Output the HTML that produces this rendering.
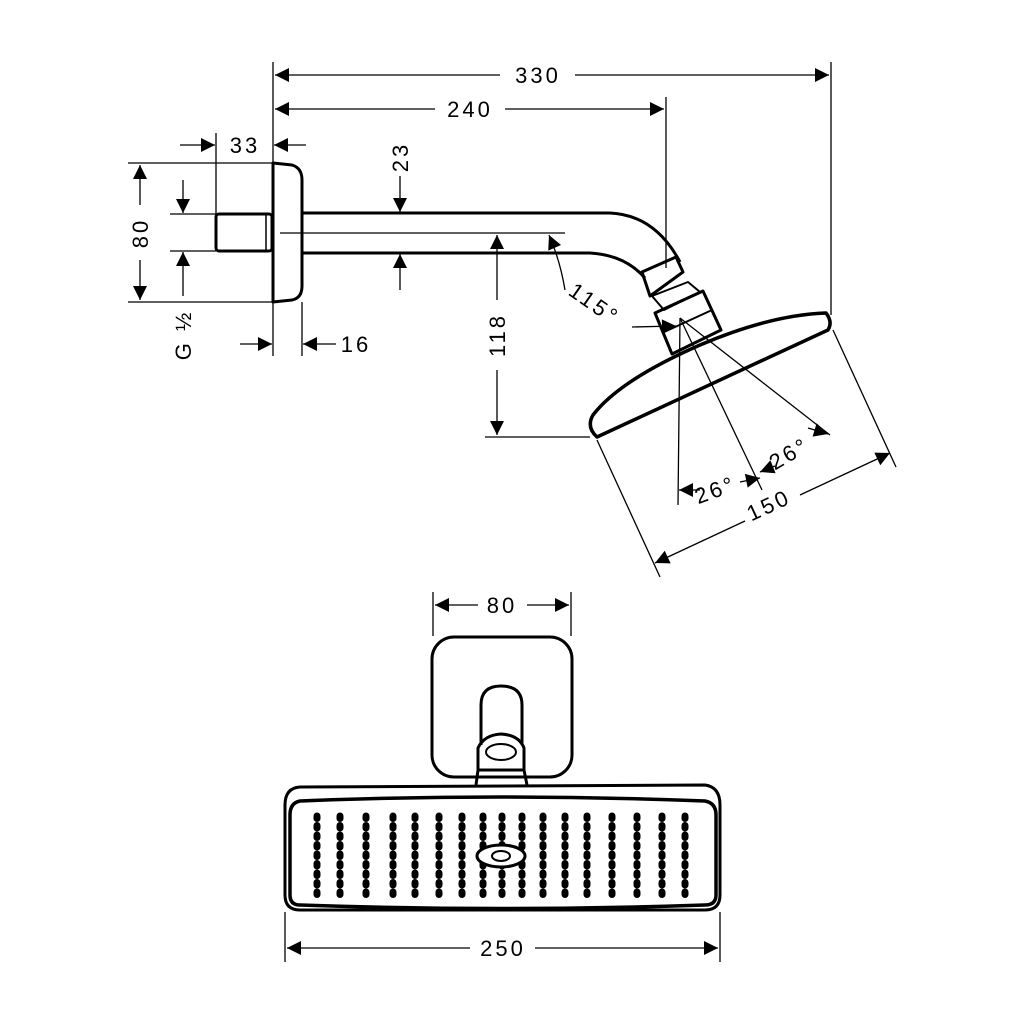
<!DOCTYPE html>
<html><head><meta charset="utf-8"><style>
html,body{margin:0;padding:0;background:#fff;}
svg{display:block}
text{font-family:"Liberation Sans",sans-serif;font-size:22px;fill:#000;letter-spacing:3px}
</style></head><body>
<svg width="1024" height="1024" viewBox="0 0 1024 1024" xmlns="http://www.w3.org/2000/svg">
<defs>
<marker id="b" viewBox="0 0 10 10" refX="10" refY="5" markerWidth="18" markerHeight="14" markerUnits="userSpaceOnUse" orient="auto-start-reverse">
<path d="M0,0 L10,5 L0,10z" fill="#000"/></marker>
</defs>
<g fill="none" stroke="#000" stroke-width="1.3">
<line x1="273" y1="62" x2="273" y2="163"/>
<line x1="831" y1="62" x2="831" y2="315"/>
<line x1="666" y1="97" x2="666" y2="268"/>
<line x1="216" y1="133" x2="216" y2="214"/>
<line x1="128" y1="163" x2="273" y2="163"/>
<line x1="128" y1="302" x2="273" y2="302"/>
<line x1="170" y1="214" x2="216" y2="214"/>
<line x1="170" y1="251" x2="216" y2="251"/>
<line x1="273" y1="302" x2="273" y2="356"/>
<line x1="302" y1="302" x2="302" y2="356"/>
<line x1="280" y1="233" x2="565" y2="233"/>
<line x1="485" y1="437" x2="590" y2="437"/>
<line x1="275" y1="75" x2="500" y2="75" marker-start="url(#b)"/>
<line x1="575" y1="75" x2="829" y2="75" marker-end="url(#b)"/>
<line x1="275" y1="109" x2="435" y2="109" marker-start="url(#b)"/>
<line x1="505" y1="109" x2="664" y2="109" marker-end="url(#b)"/>
<line x1="180" y1="145" x2="215" y2="145" marker-end="url(#b)"/>
<line x1="306" y1="145" x2="274" y2="145" marker-end="url(#b)"/>
<line x1="140" y1="165" x2="140" y2="205" marker-start="url(#b)"/>
<line x1="140" y1="260" x2="140" y2="300" marker-end="url(#b)"/>
<line x1="183" y1="180" x2="183" y2="213" marker-end="url(#b)"/>
<line x1="183" y1="296" x2="183" y2="252" marker-end="url(#b)"/>
<line x1="240" y1="344" x2="272" y2="344" marker-end="url(#b)"/>
<line x1="336" y1="344" x2="303" y2="344" marker-end="url(#b)"/>
<line x1="400" y1="176" x2="400" y2="212" marker-end="url(#b)"/>
<line x1="400" y1="290" x2="400" y2="254" marker-end="url(#b)"/>
<line x1="497" y1="235" x2="497" y2="300" marker-start="url(#b)"/>
<line x1="497" y1="370" x2="497" y2="435" marker-end="url(#b)"/>
<path d="M565,290 Q560,260 549,235" marker-end="url(#b)"/>
<line x1="632" y1="327" x2="676" y2="326" marker-end="url(#b)"/>
<line x1="680" y1="318" x2="678" y2="505"/>
<line x1="680" y1="318" x2="762" y2="490"/>
<line x1="680" y1="318" x2="830" y2="435"/>
<line x1="700" y1="490" x2="679" y2="490" marker-end="url(#b)"/>
<line x1="740" y1="482" x2="760" y2="478" marker-end="url(#b)"/>
<line x1="775" y1="466" x2="760" y2="472" marker-end="url(#b)"/>
<line x1="808" y1="428" x2="828" y2="434" marker-end="url(#b)"/>
<line x1="597" y1="440" x2="660" y2="577"/>
<line x1="833" y1="330" x2="896" y2="467"/>
<line x1="655" y1="563" x2="745" y2="521" marker-start="url(#b)"/>
<line x1="800" y1="495" x2="890" y2="453" marker-end="url(#b)"/>
</g>
<g fill="none" stroke="#000" stroke-width="3" stroke-linejoin="round">
<path d="M273,163 L292,165 Q302,168 302,180 L302,286 Q302,298 292,300 L273,302 Z"/>
<rect x="216" y="214" width="56" height="37" rx="3"/>
<line x1="266" y1="214" x2="266" y2="251" stroke-width="1.5"/>
<path d="M302,213 L610,213 Q655,215 680,262"/>
<path d="M302,253 L590,253 Q625,255 645,278"/>
<path d="M642,272 L676,257 L683,272 L650,296 Z"/>
<path d="M652,296 L688,282 L700,292 L664,310 Z" stroke-width="2"/>
<path d="M655,313 L703,291 L721,330 L672,354 Z"/>
<line x1="662" y1="333" x2="712" y2="310" stroke-width="2"/>
<path d="M597,437 L828,330 Q833,322 826,313 Q770,315 700,345 Q620,380 593,415 Q586,427 597,437 Z" stroke-width="3.5"/>
<rect x="432" y="637" width="140" height="140" rx="22"/>
<path d="M481,745 L481,705 Q481,686 501,686 Q522,686 522,705 L522,745"/>
<path d="M478,770 L478,748 Q484,735 501,734 Q519,735 524,748 L524,770"/>
<path d="M476,785 L478,770 L524,770 L527,785"/>
<ellipse cx="501" cy="752" rx="15" ry="8" stroke-width="2"/>
<path d="M300,787 L705,785 Q720,787 720,805 L720,895 Q720,910 705,910 L300,910 Q285,910 285,895 L285,805 Q285,788 300,787 Z"/>
<path d="M300,801 Q502,793 705,801 Q716,803 716,815 L716,895 Q716,905 705,905 Q502,912 300,905 Q290,905 290,895 L290,815 Q290,803 300,801 Z" stroke-width="3.5"/>
</g>
<g stroke="#000" stroke-width="7" stroke-linecap="round" stroke-dasharray="2.5 7" fill="none">
<path d="M317,816 V895"/><path d="M340,816 V895"/><path d="M366,816 V895"/><path d="M393,816 V895"/>
<path d="M415,816 V895"/><path d="M439,816 V895"/><path d="M462,816 V895"/><path d="M483,816 V895"/>
<path d="M502,816 V895"/><path d="M522,816 V895"/><path d="M543,816 V895"/><path d="M565,816 V895"/>
<path d="M587,816 V895"/><path d="M612,816 V895"/><path d="M637,816 V895"/><path d="M662,816 V895"/>
<path d="M685,816 V895"/>
</g>
<ellipse cx="501" cy="856" rx="24" ry="11" fill="#fff" stroke="#000" stroke-width="3"/>
<ellipse cx="501" cy="856" rx="9" ry="5" fill="#fff" stroke="#000" stroke-width="2"/>
<g fill="none" stroke="#000" stroke-width="1.3">
<line x1="433" y1="592" x2="433" y2="636"/>
<line x1="571" y1="592" x2="571" y2="636"/>
<line x1="435" y1="605" x2="478" y2="605" marker-start="url(#b)"/>
<line x1="527" y1="605" x2="569" y2="605" marker-end="url(#b)"/>
<line x1="285" y1="912" x2="285" y2="962"/>
<line x1="720" y1="912" x2="720" y2="962"/>
<line x1="287" y1="948" x2="470" y2="948" marker-start="url(#b)"/>
<line x1="535" y1="948" x2="718" y2="948" marker-end="url(#b)"/>
</g>
<text x="538" y="83" text-anchor="middle">330</text>
<text x="470" y="117" text-anchor="middle">240</text>
<text x="245" y="153" text-anchor="middle">33</text>
<text x="356" y="352" text-anchor="middle">16</text>
<text transform="translate(148,233) rotate(-90)" text-anchor="middle">80</text>
<text transform="translate(191,335) rotate(-90)" text-anchor="middle">G ½</text>
<text transform="translate(408,157) rotate(-90)" text-anchor="middle">23</text>
<text transform="translate(505,335) rotate(-90)" text-anchor="middle">118</text>
<text transform="translate(590,310) rotate(35)" text-anchor="middle">115°</text>
<text transform="translate(718,497) rotate(-20)" text-anchor="middle">26°</text>
<text transform="translate(793,460) rotate(-30)" text-anchor="middle">26°</text>
<text transform="translate(772,512) rotate(-25)" text-anchor="middle">150</text>
<text x="502" y="613" text-anchor="middle">80</text>
<text x="503" y="956" text-anchor="middle">250</text>
</svg>
</body></html>
